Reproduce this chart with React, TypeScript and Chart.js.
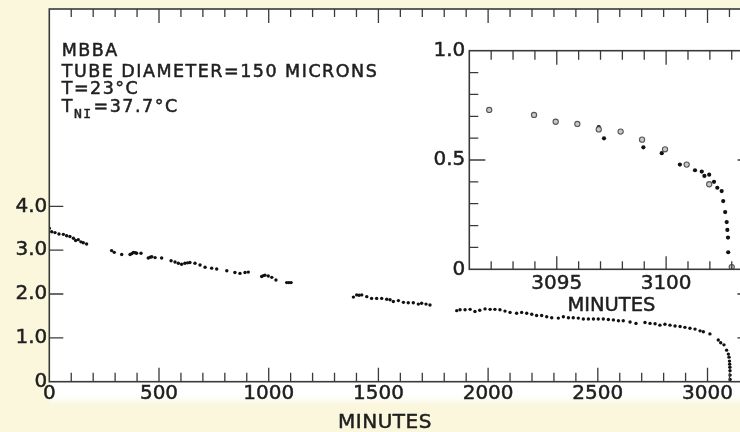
import React, { useEffect, useRef } from "react";
import { Chart, registerables } from "chart.js";

Chart.register(...registerables);

// ---------- data ----------
const mainMinutes = [
  0, 11, 26, 44, 64, 79, 94, 110, 120, 132, 144, 155, 170,
  284, 296, 330, 368, 376, 383, 392, 398, 418, 451, 460, 467, 482, 512, 555, 573, 588, 603, 618, 630, 641, 664, 687, 710, 740, 763, 809, 846, 869, 892, 907, 968, 976, 983, 998, 1014, 1033, 1082, 1092, 1102,
  1386, 1401, 1412, 1424, 1447, 1469, 1492, 1515, 1538, 1553, 1568, 1591, 1614, 1636, 1659, 1682, 1697, 1717, 1735,
  1857, 1872, 1895, 1918, 1940, 1962, 1986, 2009, 2031, 2054, 2077, 2100, 2130, 2153, 2176, 2199, 2221, 2244, 2267, 2290, 2320, 2343, 2366, 2388, 2411, 2434, 2457, 2480, 2502, 2525, 2548, 2571, 2594, 2616, 2647, 2674, 2715, 2738, 2761, 2783, 2806, 2829, 2852, 2875, 2897, 2920, 2943, 2966, 2981, 3011, 3049, 3060, 3075, 3087, 3095, 3098, 3100, 3101, 3102, 3102.5, 3102.8, 3103,
];
const mainValues = [
  3.5, 3.42, 3.4, 3.37, 3.36, 3.33, 3.31, 3.27, 3.22, 3.24, 3.19, 3.17, 3.14,
  2.99, 2.95, 2.9, 2.9, 2.92, 2.95, 2.94, 2.93, 2.93, 2.82, 2.84, 2.85, 2.83, 2.82, 2.76, 2.73, 2.7, 2.68, 2.7, 2.71, 2.72, 2.7, 2.66, 2.61, 2.59, 2.57, 2.53, 2.49, 2.47, 2.49, 2.5, 2.4, 2.42, 2.43, 2.41, 2.38, 2.32, 2.26, 2.26, 2.26,
  1.93, 1.98, 1.97, 1.98, 1.94, 1.9, 1.9, 1.9, 1.88, 1.87, 1.83, 1.85, 1.81, 1.8, 1.8, 1.77, 1.79, 1.77, 1.75,
  1.62, 1.64, 1.64, 1.65, 1.6, 1.63, 1.66, 1.65, 1.65, 1.64, 1.61, 1.58, 1.56, 1.58, 1.56, 1.54, 1.51, 1.51, 1.48, 1.46, 1.45, 1.48, 1.46, 1.46, 1.45, 1.43, 1.43, 1.43, 1.43, 1.43, 1.42, 1.41, 1.39, 1.39, 1.36, 1.33, 1.35, 1.33, 1.32, 1.29, 1.31, 1.29, 1.27, 1.26, 1.24, 1.22, 1.2, 1.16, 1.14, 1.09, 0.95, 0.89, 0.84, 0.72, 0.63, 0.56, 0.47, 0.4, 0.33, 0.25, 0.15, 0.05,
];
const mainXTicks = [0, 500, 1000, 1500, 2000, 2500, 3000];
const mainXMajorStep = 500;
const mainXMinorStep = 100;
const mainYTicks = [0, 1, 2, 3, 4];

const insetOpenMinutes = [3091.91, 3093.96, 3094.95, 3095.94, 3096.92, 3097.92, 3098.9, 3099.95, 3100.94, 3101.97, 3103.0];
const insetOpenValues = [0.729, 0.706, 0.675, 0.665, 0.64, 0.63, 0.593, 0.549, 0.479, 0.389, 0.01];
const insetFilledMinutes = [3096.92, 3097.16, 3098.96, 3099.8, 3100.63, 3101.32, 3101.63, 3101.75, 3101.97, 3102.19, 3102.34, 3102.54, 3102.61, 3102.7, 3102.77, 3102.8, 3102.83, 3102.84, 3103.0];
const insetFilledValues = [0.651, 0.599, 0.558, 0.531, 0.479, 0.453, 0.447, 0.427, 0.433, 0.4, 0.373, 0.358, 0.312, 0.262, 0.216, 0.18, 0.145, 0.078, 0.01];
const insetXTicks = [3095, 3100];
const insetYTicks = [0, 0.5, 1.0];

const annotationLines = ["MBBA", "TUBE DIAMETER=150 MICRONS", "T=23°C"];
const tniParts = ["T", "NI", "=37.7°C"];
const xTitle = "MINUTES";

// ---------- styles ----------
const FONT = "'DejaVu Sans', sans-serif";
const MONO = "'DejaVu Sans Mono', monospace";
const INK = "#1e1e1e";
const AXIS = "#3a3a3a";
const BG = "#faf7dd";
const TEXT_STROKE = 0.5;

const zip = (xs: number[], ys: number[]) => xs.map((x, i) => ({ x, y: ys[i] }));
const noPad = (s: any) => {
  s.paddingTop = 0;
  s.paddingBottom = 0;
  s.paddingLeft = 0;
  s.paddingRight = 0;
};

function strokeTicks(ctx: CanvasRenderingContext2D, segs: number[][]) {
  ctx.beginPath();
  for (const [x1, y1, x2, y2] of segs) {
    ctx.moveTo(x1, y1);
    ctx.lineTo(x2, y2);
  }
  ctx.stroke();
}

function inkText(ctx: CanvasRenderingContext2D, t: string, x: number, y: number) {
  ctx.strokeText(t, x, y);
  ctx.fillText(t, x, y);
}

const mainDecor = {
  id: "mainDecor",
  beforeDraw(chart: any) {
    const { ctx, chartArea: a } = chart;
    ctx.save();
    ctx.fillStyle = "#ffffff";
    ctx.fillRect(a.left, a.top, a.right - a.left, a.bottom - a.top + 14);
    const g = ctx.createLinearGradient(0, a.bottom + 14, 0, a.bottom + 24);
    g.addColorStop(0, "rgba(255,255,255,1)");
    g.addColorStop(1, "rgba(255,255,255,0)");
    ctx.fillStyle = g;
    ctx.fillRect(a.left, a.bottom + 14, a.right - a.left, 10);
    ctx.restore();
  },
  afterDraw(chart: any) {
    const { ctx, chartArea: a } = chart;
    const xs = chart.scales.x;
    const ys = chart.scales.y;
    ctx.save();
    ctx.strokeStyle = AXIS;
    ctx.lineWidth = 1.6;
    ctx.strokeRect(a.left, a.top, a.right - a.left, a.bottom - a.top);
    ctx.lineWidth = 1.3;
    const segs: number[][] = [];
    for (let v = mainXMinorStep; v < xs.max; v += mainXMinorStep) {
      const px = xs.getPixelForValue(v);
      const major = v % mainXMajorStep === 0;
      segs.push([px, a.bottom, px, a.bottom - (major ? 14 : 9)]);
      segs.push([px, a.top, px, a.top + (major ? 14 : 8)]);
    }
    for (const v of mainYTicks) {
      if (v === 0) continue;
      const py = ys.getPixelForValue(v);
      segs.push([a.left, py, a.left + 14, py]);
      segs.push([a.right, py, a.right - 14, py]);
    }
    strokeTicks(ctx, segs);

    // annotation block
    ctx.fillStyle = INK;
    ctx.strokeStyle = INK;
    ctx.lineWidth = TEXT_STROKE;
    ctx.textAlign = "left";
    ctx.textBaseline = "alphabetic";
    ctx.font = `17.5px ${FONT}`;
    (ctx as any).letterSpacing = "1.5px";
    const x0 = a.left + 12.4;
    const baselines = [47, 68.3, 85];
    annotationLines.forEach((t, i) => inkText(ctx, t, x0, a.top + baselines[i]));
    let cx = x0;
    const by = a.top + 102.5;
    inkText(ctx, tniParts[0], cx, by);
    cx += ctx.measureText(tniParts[0]).width;
    ctx.font = `13px ${MONO}`;
    (ctx as any).letterSpacing = "1.5px";
    inkText(ctx, tniParts[1], cx, by + 6.5);
    cx += ctx.measureText(tniParts[1]).width + 1;
    ctx.font = `17.5px ${FONT}`;
    (ctx as any).letterSpacing = "1.5px";
    inkText(ctx, tniParts[2], cx, by);

    // x axis title
    ctx.font = `20px ${FONT}`;
    (ctx as any).letterSpacing = "0.5px";
    ctx.textAlign = "center";
    inkText(ctx, xTitle, xs.getPixelForValue(1530), a.bottom + 46.5);
    ctx.restore();
  },
};

const insetDecor = {
  id: "insetDecor",
  beforeDraw(chart: any) {
    const { ctx, chartArea: a } = chart;
    ctx.save();
    ctx.fillStyle = "#ffffff";
    ctx.fillRect(a.left, a.top, a.right - a.left, a.bottom - a.top);
    ctx.restore();
  },
  afterDraw(chart: any) {
    const { ctx, chartArea: a } = chart;
    const xs = chart.scales.x;
    const ys = chart.scales.y;
    ctx.save();
    ctx.strokeStyle = AXIS;
    ctx.lineWidth = 1.6;
    ctx.strokeRect(a.left, a.top, a.right - a.left, a.bottom - a.top);
    ctx.lineWidth = 1.3;
    const segs: number[][] = [];
    for (let v = Math.ceil(xs.min) + 1; v < xs.max; v += 1) {
      const px = xs.getPixelForValue(v);
      const major = v % 5 === 0;
      segs.push([px, a.bottom, px, a.bottom - (major ? 13 : 8)]);
      segs.push([px, a.top, px, a.top + (major ? 14 : 9)]);
    }
    for (let k = 1; k < 10; k++) {
      const v = k / 10;
      const py = ys.getPixelForValue(v);
      const major = k === 5;
      segs.push([a.left, py, a.left + (major ? 16 : 9), py]);
      segs.push([a.right, py, a.right - (major ? 16 : 9), py]);
    }
    strokeTicks(ctx, segs);
    ctx.fillStyle = INK;
    ctx.strokeStyle = INK;
    ctx.lineWidth = TEXT_STROKE;
    ctx.font = `19.5px ${FONT}`;
    ctx.textAlign = "center";
    ctx.textBaseline = "alphabetic";
    inkText(ctx, xTitle, (a.left + a.right) / 2, a.bottom + 41.7);
    ctx.restore();
  },
};

export default function App() {
  const mainRef = useRef<HTMLCanvasElement>(null);
  const insetRef = useRef<HTMLCanvasElement>(null);

  useEffect(() => {
    const tickFont = { family: FONT, size: 20 };
    const tickInk = { color: INK, font: tickFont, textStrokeColor: INK, textStrokeWidth: TEXT_STROKE };
    const numLabel = (v: any) => (Number(v) === 0 ? "0" : Number(v).toFixed(1));
    const main = new Chart(mainRef.current as HTMLCanvasElement, {
      type: "scatter",
      data: {
        datasets: [
          {
            data: zip(mainMinutes, mainValues),
            pointRadius: 1.7,
            pointBackgroundColor: "#111",
            pointBorderWidth: 0,
            pointHoverRadius: 1.7,
          },
        ],
      },
      options: {
        animation: false,
        responsive: false,
        events: [],
        layout: { padding: { left: 0, top: 9, right: 8.6, bottom: 0 } },
        plugins: { legend: { display: false }, tooltip: { enabled: false } },
        scales: {
          x: {
            type: "linear",
            min: 0,
            max: 3200,
            grid: { display: false, drawTicks: false },
            border: { display: false },
            afterBuildTicks: (s: any) => { s.ticks = mainXTicks.map((v) => ({ value: v })); },
            ticks: { autoSkip: false, maxRotation: 0, padding: 0, ...tickInk, callback: (v: any) => String(v) },
            afterFit: (s: any) => { s.height = 50.3; noPad(s); },
          },
          y: {
            type: "linear",
            min: 0,
            max: 8.5,
            grid: { display: false, drawTicks: false },
            border: { display: false },
            afterBuildTicks: (s: any) => { s.ticks = mainYTicks.map((v) => ({ value: v })); },
            ticks: { padding: 2, ...tickInk, callback: numLabel },
            afterFit: (s: any) => { s.width = 49.3; noPad(s); },
          },
        },
      } as any,
      plugins: [mainDecor],
    });

    const inset = new Chart(insetRef.current as HTMLCanvasElement, {
      type: "scatter",
      data: {
        datasets: [
          {
            data: zip(insetOpenMinutes, insetOpenValues),
            pointRadius: 2.6,
            pointBackgroundColor: "#c8c8c8",
            pointBorderColor: "#555",
            pointBorderWidth: 1.1,
          },
          {
            data: zip(insetFilledMinutes, insetFilledValues),
            pointRadius: 2.1,
            pointBackgroundColor: "#111",
            pointBorderWidth: 0,
          },
        ],
      },
      options: {
        animation: false,
        responsive: false,
        events: [],
        layout: { padding: { left: 0, top: 20.7, right: 6.4, bottom: 0 } },
        plugins: { legend: { display: false }, tooltip: { enabled: false } },
        scales: {
          x: {
            type: "linear",
            min: 3091,
            max: 3104,
            grid: { display: false, drawTicks: false },
            border: { display: false },
            afterBuildTicks: (s: any) => { s.ticks = insetXTicks.map((v) => ({ value: v })); },
            ticks: { autoSkip: false, maxRotation: 0, padding: 2, ...tickInk, callback: (v: any) => String(v) },
            afterFit: (s: any) => { s.height = 50.7; noPad(s); },
          },
          y: {
            type: "linear",
            min: 0,
            max: 1,
            grid: { display: false, drawTicks: false },
            border: { display: false },
            afterBuildTicks: (s: any) => { s.ticks = insetYTicks.map((v) => ({ value: v })); },
            ticks: { padding: 4, ...tickInk, callback: numLabel },
            afterFit: (s: any) => { s.width = 49.3; noPad(s); },
          },
        },
      } as any,
      plugins: [insetDecor],
    });

    return () => {
      main.destroy();
      inset.destroy();
    };
  }, []);

  return (
    <div
      style={{
        position: "fixed",
        left: 0,
        top: 0,
        width: 740,
        height: 432,
        overflow: "hidden",
        background: BG,
      }}
    >
      <canvas
        ref={mainRef}
        width={760}
        height={432}
        style={{ position: "absolute", left: 0, top: 0, width: 760, height: 432 }}
      />
      <canvas
        ref={insetRef}
        width={340}
        height={290}
        style={{ position: "absolute", left: 420, top: 30, width: 340, height: 290 }}
      />
    </div>
  );
}
